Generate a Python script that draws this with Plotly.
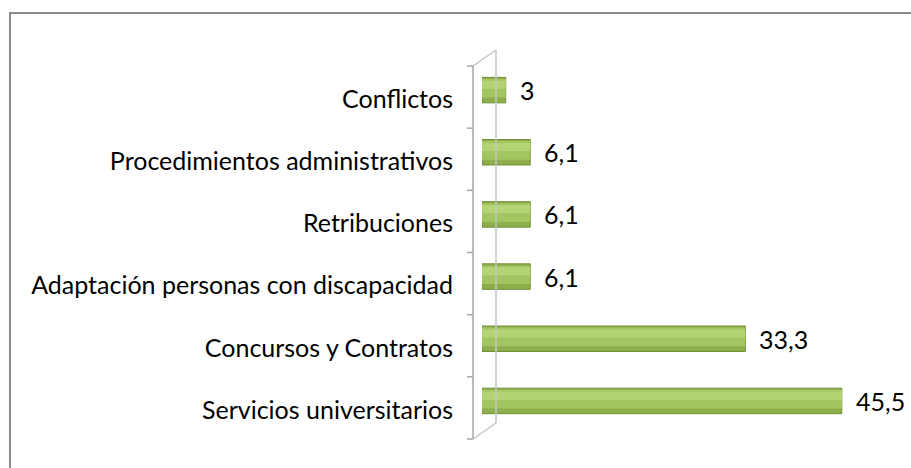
import plotly.graph_objects as go

# categories listed bottom -> top, as plotly draws horizontal bars
categorias = [
    "Servicios universitarios",
    "Concursos y Contratos",
    "Adaptación personas con discapacidad",
    "Retribuciones",
    "Procedimientos administrativos",
    "Conflictos",
]
valores = [45.5, 33.3, 6.1, 6.1, 6.1, 3]
etiquetas = [f"{v:g}".replace(".", ",") for v in valores]

W, H = 911, 468
FONT = "Lato"
FSIZE = 25

# pixel helpers -> paper coords (margins are 0, so paper == figure)
def px(x):
    return x / W

def py(y):
    return 1 - y / H

fig = go.Figure()

# cylinder look: dark body, lighter band, highlight
fig.add_trace(go.Bar(
    y=categorias, x=valores, orientation="h",
    width=0.41, offset=-0.205,
    marker=dict(color="#8dae4b", line=dict(color="#718f38", width=1)),
    hoverinfo="skip",
))
fig.add_trace(go.Bar(
    y=categorias, x=valores, orientation="h",
    width=0.3, offset=-0.12,
    marker=dict(color="#a3c561", line=dict(width=0)),
    hoverinfo="skip",
))
fig.add_trace(go.Bar(
    y=categorias, x=valores, orientation="h",
    width=0.13, offset=0.02,
    marker=dict(color="#b3d374", line=dict(width=0)),
    hoverinfo="skip",
))

# value labels
for cat, v, lab in zip(categorias, valores, etiquetas):
    fig.add_annotation(
        x=v, y=cat, text=lab, showarrow=False,
        xanchor="left", yanchor="middle", xshift=12,
        font=dict(family=FONT, size=FSIZE, color="#000000"),
    )

shapes = []
line_front = dict(color="#a6a6a6", width=1.5)
line_back = dict(color="#c4c4c4", width=1.5)
# chart border (only top and left visible, rest cropped)
shapes.append(dict(type="rect", xref="paper", yref="paper",
                   x0=px(10), x1=px(W + 20), y0=py(H + 20), y1=py(13),
                   line=dict(color="#8a8a8a", width=2)))
# 3D wall: front axis line, back line, diagonals
shapes.append(dict(type="line", xref="paper", yref="paper",
                   x0=px(473), x1=px(473), y0=py(66), y1=py(439), line=line_front))
shapes.append(dict(type="line", xref="paper", yref="paper",
                   x0=px(496), x1=px(496), y0=py(50), y1=py(423), line=line_back))
shapes.append(dict(type="line", xref="paper", yref="paper",
                   x0=px(473), x1=px(496), y0=py(66), y1=py(50), line=line_back))
shapes.append(dict(type="line", xref="paper", yref="paper",
                   x0=px(473), x1=px(496), y0=py(439), y1=py(423), line=line_back))
# tick marks on the front axis line
n = len(categorias)
for k in range(n + 1):
    yk = 66 + k * (439 - 66) / n
    shapes.append(dict(type="line", xref="paper", yref="paper",
                       x0=px(467), x1=px(473), y0=py(yk), y1=py(yk), line=line_front))

fig.update_layout(
    template="none",
    width=W, height=H,
    margin=dict(l=0, r=0, t=0, b=0),
    paper_bgcolor="white",
    plot_bgcolor="rgba(0,0,0,0)",
    barmode="overlay",
    showlegend=False,
    shapes=shapes,
    font=dict(family=FONT, size=FSIZE, color="#000000"),
    xaxis=dict(
        domain=[px(482), px(909)], range=[0, 54],
        showgrid=False, zeroline=False, showline=False,
        showticklabels=False, ticks="",
    ),
    yaxis=dict(
        domain=[py(432), py(59)],
        type="category", categoryorder="array", categoryarray=categorias,
        range=[-0.5, n - 0.5],
        showgrid=False, zeroline=False, showline=False,
        ticks="", ticklabelstandoff=28, ticklabelshift=9,
        tickfont=dict(family=FONT, size=FSIZE, color="#000000"),
        automargin=False,
    ),
)

# the page has a default 8px body margin; remove it so the chart sits at 0,0
fig.write_html(
    "out.html",
    config={"displayModeBar": False},
    post_script="document.body.style.margin='0';",
)
